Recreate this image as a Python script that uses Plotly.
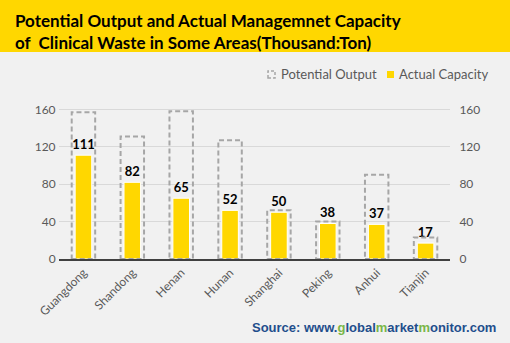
import plotly.graph_objects as go

categories = ["Guangdong", "Shandong", "Henan", "Hunan", "Shanghai", "Peking", "Anhui", "Tianjin"]
potential_output = [157, 131, 158, 127, 52, 40, 90, 23]
actual_capacity = [111, 82, 65, 52, 50, 38, 37, 17]
y_ticks = [0, 40, 80, 120, 160]

W, H = 510, 343
ML, MR, MT, MB = 59, 60, 100, 84
PW, PH = W - ML - MR, H - MT - MB

def px(x):
    return (x - ML) / PW

def py(y):
    return (H - MB - y) / PH

BG = "#F1F1F1"
YELLOW = "#FFD700"
GRAY_TXT = "#595959"
FONT = "Lato"

fig = go.Figure()
fig.add_trace(go.Bar(
    x=categories, y=actual_capacity, width=0.34,
    marker=dict(color=YELLOW, line=dict(color="white", width=1)),
    text=[str(v) for v in actual_capacity], textposition="outside",
    constraintext="none",
    textfont=dict(family=FONT, size=13, color="black", weight="bold"),
    cliponaxis=False, showlegend=False, name="Actual Capacity",
))
fig.add_trace(go.Scatter(
    x=categories, y=actual_capacity, yaxis="y2", mode="markers",
    marker=dict(opacity=0), showlegend=False, hoverinfo="skip",
))

shapes = []
# banner
shapes.append(dict(type="rect", xref="paper", yref="paper",
                   x0=px(0), x1=px(W), y0=py(52), y1=py(0),
                   fillcolor=YELLOW, line=dict(width=0), layer="below"))
# dashed potential outlines
for i, v in enumerate(potential_output):
    shapes.append(dict(type="rect", xref="x", yref="y",
                       x0=i - 0.24, x1=i + 0.24, y0=0, y1=v,
                       line=dict(color="#A6A6A6", width=2, dash="5px,3px"),
                       fillcolor="rgba(0,0,0,0)", layer="above"))
# legend icons
shapes.append(dict(type="rect", xref="paper", yref="paper",
                   x0=px(268), x1=px(275), y0=py(78), y1=py(71),
                   line=dict(color="#A6A6A6", width=1.5, dash="3px,2px"),
                   fillcolor="rgba(0,0,0,0)"))
shapes.append(dict(type="rect", xref="paper", yref="paper",
                   x0=px(387), x1=px(394), y0=py(78), y1=py(71),
                   line=dict(width=0), fillcolor=YELLOW))

annotations = [
    dict(xref="paper", yref="paper", x=px(13), y=py(31), xanchor="left", yanchor="middle",
         text="<b>Potential Output and Actual Managemnet Capacity<br>of  Clinical Waste in Some Areas(Thousand:Ton)</b>",
         align="left", showarrow=False, font=dict(family=FONT, size=17, color="black")),
    dict(xref="paper", yref="paper", x=px(279), y=py(74.5), xanchor="left", yanchor="middle",
         text="Potential Output", showarrow=False, font=dict(family=FONT, size=13, color=GRAY_TXT)),
    dict(xref="paper", yref="paper", x=px(397), y=py(74.5), xanchor="left", yanchor="middle",
         text="Actual Capacity", showarrow=False, font=dict(family=FONT, size=13, color=GRAY_TXT)),
    dict(xref="paper", yref="paper", x=px(498), y=py(327), xanchor="right", yanchor="middle",
         text=("<b><span style='color:#1F4E8C'>Source: www.</span><span style='color:#7AB648'>g</span>"
               "<span style='color:#1F4E8C'>lobal</span><span style='color:#7AB648'>m</span>"
               "<span style='color:#1F4E8C'>arket</span><span style='color:#7AB648'>m</span>"
               "<span style='color:#1F4E8C'>onitor.com</span></b>"),
         showarrow=False, font=dict(family="Liberation Sans", size=13, color="#1F4E8C")),
]

fig.update_layout(
    width=W, height=H, margin=dict(l=ML, r=MR, t=MT, b=MB),
    paper_bgcolor=BG, plot_bgcolor=BG,
    shapes=shapes, annotations=annotations, showlegend=False,
    xaxis=dict(tickangle=-45, tickfont=dict(family=FONT, size=12, color=GRAY_TXT),
               showline=True, linecolor="#404040", linewidth=2, showgrid=False,
               ticks="", fixedrange=True),
    yaxis=dict(range=[0, 170], tickvals=y_ticks, showgrid=True, gridcolor="#D9D9D9",
               gridwidth=1, zeroline=False, tickfont=dict(family=FONT, size=12, color=GRAY_TXT),
               ticklen=0, ticks="outside", tickcolor=BG, ticklabelstandoff=0),
    yaxis2=dict(range=[0, 170], tickvals=y_ticks, overlaying="y", side="right", showgrid=False,
                zeroline=False, tickfont=dict(family=FONT, size=12, color=GRAY_TXT),
                ticks="outside", ticklen=6, tickcolor=BG),
)

fig.write_html("out.html")
